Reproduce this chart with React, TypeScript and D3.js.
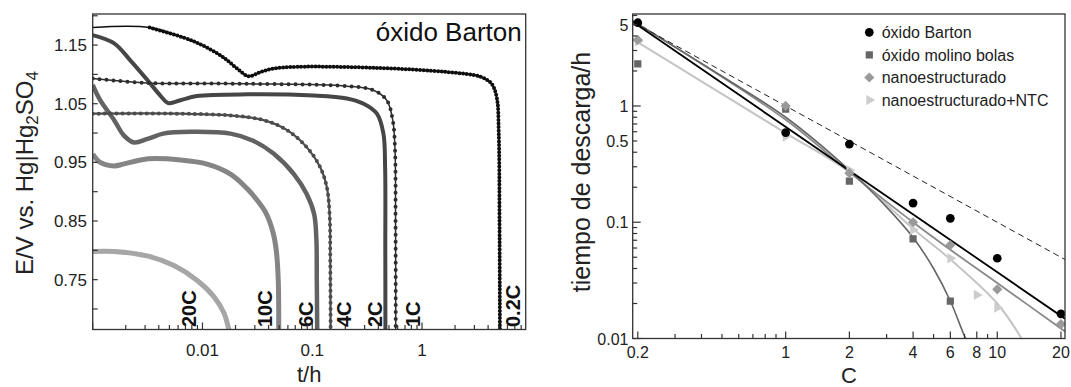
import { useRef, useEffect } from "react";
import * as d3 from "d3";

// ---- left panel: discharge curves, óxido Barton (t in h, E in V) ----
const t02 = [0.001, 0.0033, 0.0068, 0.0099, 0.0136, 0.0168, 0.0207, 0.0263, 0.0337, 0.0444, 0.073, 0.4, 1.7, 3.4, 4.3, 4.8, 5.0, 5.08, 5.12];
const e02 = [1.18, 1.18, 1.1625, 1.15, 1.136, 1.124, 1.11, 1.097, 1.104, 1.11, 1.113, 1.111, 1.104, 1.096, 1.084, 1.06, 1.0, 0.85, 0.66];
const t1 = [0.001, 0.0031, 0.0256, 0.207, 0.361, 0.477, 0.541, 0.568, 0.574, 0.576];
const e1 = [1.093, 1.0855, 1.084, 1.08, 1.073, 1.056, 1.022, 0.97, 0.85, 0.66];
const t2 = [0.001, 0.00157, 0.0022, 0.00316, 0.00413, 0.0049, 0.0063, 0.0089, 0.0256, 0.103, 0.207, 0.294, 0.388, 0.445, 0.461, 0.463, 0.464];
const e2 = [1.167, 1.153, 1.124, 1.09, 1.064, 1.051, 1.056, 1.063, 1.066, 1.064, 1.059, 1.05, 1.033, 0.999, 0.942, 0.8, 0.66];
const t4 = [0.001, 0.0063, 0.018, 0.036, 0.059, 0.089, 0.118, 0.136, 0.144, 0.146, 0.147];
const e4 = [1.033, 1.033, 1.03, 1.022, 1.005, 0.976, 0.942, 0.907, 0.86, 0.78, 0.66];
const t6 = [0.001, 0.00117, 0.00157, 0.00192, 0.00237, 0.00316, 0.0044, 0.0078, 0.018, 0.029, 0.0444, 0.068, 0.089, 0.104, 0.109, 0.11, 0.111];
const e6 = [1.082, 1.056, 1.022, 0.996, 0.984, 0.99, 0.999, 1.002, 0.999, 0.987, 0.965, 0.93, 0.896, 0.862, 0.82, 0.75, 0.66];
const t10 = [0.001, 0.00117, 0.00157, 0.0019, 0.0032, 0.0063, 0.011, 0.018, 0.0256, 0.0316, 0.038, 0.044, 0.047, 0.049, 0.0495];
const e10 = [0.964, 0.95, 0.944, 0.947, 0.956, 0.954, 0.947, 0.93, 0.905, 0.885, 0.863, 0.83, 0.8, 0.75, 0.66];
const t20 = [0.001, 0.00157, 0.0032, 0.0055, 0.0089, 0.0127, 0.0157, 0.0174, 0.018];
const e20 = [0.798, 0.798, 0.79, 0.774, 0.749, 0.721, 0.693, 0.665, 0.655];
const rateNames = ["0.2C", "1C", "2C", "4C", "6C", "10C", "20C"];
const rateLabelAt = [6.76, 0.82, 0.37, 0.193, 0.0879, 0.0372, 0.0075];

// ---- right panel: discharge time vs C-rate ----
const bartonC = [0.2, 1, 2, 4, 6, 10, 20];
const bartonT = [5.2, 0.59, 0.47, 0.146, 0.108, 0.049, 0.0163];
const molinoC = [0.2, 1, 2, 4, 6];
const molinoT = [2.3, 0.94, 0.226, 0.072, 0.021];
const nanoC = [0.2, 1, 2, 4, 6, 10, 20];
const nanoT = [3.7, 1.0, 0.264, 0.1, 0.0636, 0.0265, 0.0133];
const ntcC = [0.2, 1, 2, 4, 6, 8, 10];
const ntcT = [3.6, 0.545, 0.28, 0.086, 0.049, 0.0237, 0.0184];

// fitted curves
const fitBartonC = [0.1892, 20.9];
const fitBartonT = [5.3, 0.0148];
const idealC = [0.1892, 20.9];
const idealT = [5.29, 0.0478];
const fitMolinoC = [0.1892, 0.5, 1, 2, 3, 4, 5, 6, 7, 7.3];
const fitMolinoT = [5.4, 1.8, 0.8, 0.28, 0.135, 0.074, 0.04, 0.021, 0.0105, 0.009];
const fitNanoC = [0.1892, 1, 2, 4, 6, 10, 20.9];
const fitNanoT = [5.4, 0.76, 0.27, 0.1, 0.058, 0.03, 0.0115];
const fitNtcC = [0.1892, 1, 2, 4, 6, 10, 13.5];
const fitNtcT = [3.75, 0.585, 0.27, 0.088, 0.048, 0.02, 0.009];

const legendNames = ["óxido Barton", "óxido molino bolas", "nanoestructurado", "nanoestructurado+NTC"];

const FONT = "'Liberation Sans', Arial, sans-serif";

export default function App() {
  const svgRef = useRef(null);

  useEffect(() => {
    document.body.style.margin = "0";
    const svg = d3.select(svgRef.current);
    svg.selectAll("*").remove();

    // ================= LEFT PANEL =================
    const L = { x0: 92.7, x1: 525.7, y0: 14, y1: 329.5 };
    const xL = d3.scaleLog().domain([0.001, 8.8]).range([L.x0, L.x1]);
    const yL = d3.scaleLinear().domain([0.665, 1.203]).range([L.y1, L.y0]);

    svg.append("defs").html(
      `<clipPath id="clipL"><rect x="${L.x0}" y="${L.y0}" width="${L.x1 - L.x0}" height="${L.y1 - L.y0}"/></clipPath>` +
      `<clipPath id="clipR"><rect x="632.7" y="14" width="432.3" height="324.5"/></clipPath>`
    );

    const gL = svg.append("g");
    const curves = gL.append("g").attr("clip-path", "url(#clipL)");
    const lineL = d3.line<[number, number]>()
      .x(d => xL(d[0]))
      .y(d => yL(d[1]))
      .curve(d3.curveCatmullRom.alpha(0.5));

    // dots: dasharray emulating the dense measured points; dotFrom = first point with dots
    const series = [
      { t: t20, e: e20, color: "#a6a6a6", w: 5, dots: null, dotFrom: 0 },
      { t: t10, e: e10, color: "#858585", w: 5, dots: null, dotFrom: 0 },
      { t: t6, e: e6, color: "#626262", w: 4.5, dots: null, dotFrom: 0 },
      { t: t4, e: e4, color: "#4c4c4c", w: 2.2, dots: "0 6", dotFrom: 0 },
      { t: t2, e: e2, color: "#464646", w: 4, dots: null, dotFrom: 0 },
      { t: t1, e: e1, color: "#2e2e2e", w: 1.5, dots: "0 7", dotFrom: 0 },
      { t: t02, e: e02, color: "#0e0e0e", w: 1.5, dots: "0 3.6", dotFrom: 1 },
    ];
    series.forEach(s => {
      const pts = s.t.map((t, i) => [t, s.e[i]] as [number, number]);
      curves.append("path")
        .attr("d", lineL(pts))
        .attr("fill", "none")
        .attr("stroke", s.color)
        .attr("stroke-width", s.w)
        .attr("stroke-linejoin", "round");
      if (s.dots) {
        curves.append("path")
          .attr("d", lineL(pts.slice(s.dotFrom)))
          .attr("fill", "none")
          .attr("stroke", s.color)
          .attr("stroke-width", 4)
          .attr("stroke-linecap", "round")
          .attr("stroke-dasharray", s.dots);
      }
    });

    // curve labels
    rateNames.forEach((name, i) => {
      const x = xL(rateLabelAt[i]) + 7;
      gL.append("text")
        .attr("transform", `translate(${x},327) rotate(-90)`)
        .attr("font-family", FONT)
        .attr("font-weight", "bold")
        .attr("font-size", 20)
        .attr("fill", "#111")
        .text(name);
    });

    // left ticks
    const ticksXL: number[] = [];
    for (let k = -3; k <= 0; k++) for (let m = 1; m <= 9; m++) {
      const v = m * Math.pow(10, k);
      if (v >= 0.001 && v <= 8.8) ticksXL.push(v);
    }
    ticksXL.forEach(v => {
      const major = Math.abs(Math.log10(v) - Math.round(Math.log10(v))) < 1e-9;
      gL.append("line")
        .attr("x1", xL(v)).attr("x2", xL(v))
        .attr("y1", L.y1).attr("y2", L.y1 - (major ? 7 : 4.5))
        .attr("stroke", "#333").attr("stroke-width", 1.2);
    });
    [0.01, 0.1, 1].forEach(v => {
      gL.append("text")
        .attr("x", xL(v)).attr("y", 355.7)
        .attr("text-anchor", "middle")
        .attr("font-family", FONT).attr("font-size", 17).attr("fill", "#222")
        .text(String(v));
    });
    d3.range(0.70, 1.2001, 0.05).forEach(v => {
      gL.append("line")
        .attr("x1", L.x0).attr("x2", L.x0 + 5)
        .attr("y1", yL(v)).attr("y2", yL(v))
        .attr("stroke", "#333").attr("stroke-width", 1.2);
    });
    [0.75, 0.85, 0.95, 1.05, 1.15].forEach(v => {
      gL.append("text")
        .attr("x", 87).attr("y", yL(v) + 6)
        .attr("text-anchor", "end")
        .attr("font-family", FONT).attr("font-size", 17).attr("fill", "#222")
        .text(v.toFixed(2));
    });

    gL.append("rect")
      .attr("x", L.x0).attr("y", L.y0)
      .attr("width", L.x1 - L.x0).attr("height", L.y1 - L.y0)
      .attr("fill", "none").attr("stroke", "#333").attr("stroke-width", 1.3);

    gL.append("text")
      .attr("x", 521.7).attr("y", 40.7)
      .attr("text-anchor", "end")
      .attr("font-family", FONT).attr("font-size", 26).attr("fill", "#111")
      .text("óxido Barton");

    gL.append("text")
      .attr("x", (L.x0 + L.x1) / 2).attr("y", 381.5)
      .attr("text-anchor", "middle")
      .attr("font-family", FONT).attr("font-size", 22).attr("fill", "#222")
      .text("t/h");

    const yTitle = gL.append("text")
      .attr("transform", `translate(33,173) rotate(-90)`)
      .attr("text-anchor", "middle")
      .attr("font-family", FONT).attr("font-size", 24).attr("fill", "#222");
    yTitle.append("tspan").text("E/V vs. Hg|Hg");
    yTitle.append("tspan").attr("font-size", 17).attr("dy", 5).text("2");
    yTitle.append("tspan").attr("dy", -5).text("SO");
    yTitle.append("tspan").attr("font-size", 17).attr("dy", 5).text("4");

    // ================= RIGHT PANEL =================
    const R = { x0: 632.7, x1: 1065, y0: 14, y1: 338.5 };
    const xR = d3.scaleLog().domain([0.1892, 20.9]).range([R.x0, R.x1]);
    const yR = d3.scaleLog().domain([0.01, 6.18]).range([R.y1, R.y0]);
    const gR = svg.append("g");
    const fits = gR.append("g").attr("clip-path", "url(#clipR)");
    const lineR = d3.line<[number, number]>()
      .x(d => xR(d[0]))
      .y(d => yR(d[1]))
      .curve(d3.curveCatmullRom.alpha(0.5));
    const pair = (a: number[], b: number[]) => a.map((v, i) => [v, b[i]] as [number, number]);

    const fitLines = [
      { c: fitNtcC, t: fitNtcT, color: "#c4c4c4", w: 2, dash: null },
      { c: fitNanoC, t: fitNanoT, color: "#8a8a8a", w: 1.8, dash: null },
      { c: fitMolinoC, t: fitMolinoT, color: "#666", w: 1.6, dash: null },
      { c: fitBartonC, t: fitBartonT, color: "#000", w: 1.8, dash: null },
      { c: idealC, t: idealT, color: "#222", w: 1, dash: "6 4" },
    ];
    fitLines.forEach(f => {
      fits.append("path")
        .attr("d", lineR(pair(f.c, f.t)))
        .attr("fill", "none")
        .attr("stroke", f.color)
        .attr("stroke-width", f.w)
        .attr("stroke-dasharray", f.dash);
    });

    const symCircle = d3.symbol(d3.symbolCircle, 60);
    const symSquare = d3.symbol(d3.symbolSquare, 52);
    const symTri = d3.symbol(d3.symbolTriangle, 46);
    const markerSets = [
      { c: ntcC, t: ntcT, sym: symTri, color: "#cdcdcd", rot: 90 },
      { c: molinoC, t: molinoT, sym: symSquare, color: "#666", rot: 0 },
      { c: nanoC, t: nanoT, sym: symSquare, color: "#9a9a9a", rot: 45 },
      { c: bartonC, t: bartonT, sym: symCircle, color: "#000", rot: 0 },
    ];
    markerSets.forEach(m => {
      m.c.forEach((c, i) => {
        fits.append("path")
          .attr("d", m.sym())
          .attr("transform", `translate(${xR(c)},${yR(m.t[i])}) rotate(${m.rot})`)
          .attr("fill", m.color);
      });
    });

    // legend
    const legendSyms = [
      { sym: symCircle, color: "#000", rot: 0 },
      { sym: symSquare, color: "#666", rot: 0 },
      { sym: symSquare, color: "#9a9a9a", rot: 45 },
      { sym: symTri, color: "#cdcdcd", rot: 90 },
    ];
    legendNames.forEach((name, i) => {
      const y = 32.3 + i * 22.6;
      gR.append("path")
        .attr("d", legendSyms[i].sym())
        .attr("transform", `translate(869.3,${y}) rotate(${legendSyms[i].rot})`)
        .attr("fill", legendSyms[i].color);
      gR.append("text")
        .attr("x", 881.7).attr("y", y + 5.6)
        .attr("font-family", FONT).attr("font-size", 16).attr("fill", "#222")
        .text(name);
    });

    // right ticks
    const labeledX = [0.2, 1, 2, 4, 6, 8, 10, 20];
    for (let k = -1; k <= 1; k++) for (let m = 1; m <= 9; m++) {
      const v = +(m * Math.pow(10, k)).toPrecision(3);
      if (v < 0.19 || v > 20.9) continue;
      const lab = labeledX.includes(v);
      gR.append("line")
        .attr("x1", xR(v)).attr("x2", xR(v))
        .attr("y1", R.y1).attr("y2", R.y1 - (lab ? 7 : 4.5))
        .attr("stroke", "#333").attr("stroke-width", 1.2);
    }
    labeledX.forEach(v => {
      gR.append("text")
        .attr("x", xR(v)).attr("y", 358.3)
        .attr("text-anchor", "middle")
        .attr("font-family", FONT).attr("font-size", 16).attr("fill", "#222")
        .text(String(v));
    });
    for (let k = -2; k <= 0; k++) for (let m = 1; m <= 9; m++) {
      const v = +(m * Math.pow(10, k)).toPrecision(3);
      if (v > 6.18) continue;
      gR.append("line")
        .attr("x1", R.x0).attr("x2", R.x0 + (m === 1 ? 8 : 4.5))
        .attr("y1", yR(v)).attr("y2", yR(v))
        .attr("stroke", "#333").attr("stroke-width", 1.2);
    }
    [0.01, 0.1, 0.5, 1, 5].forEach(v => {
      gR.append("text")
        .attr("x", 628.5).attr("y", yR(v) + 6)
        .attr("text-anchor", "end")
        .attr("font-family", FONT).attr("font-size", 16).attr("fill", "#222")
        .text(String(v));
    });

    gR.append("rect")
      .attr("x", R.x0).attr("y", R.y0)
      .attr("width", R.x1 - R.x0).attr("height", R.y1 - R.y0)
      .attr("fill", "none").attr("stroke", "#333").attr("stroke-width", 1.3);

    gR.append("text")
      .attr("x", (R.x0 + R.x1) / 2).attr("y", 383)
      .attr("text-anchor", "middle")
      .attr("font-family", FONT).attr("font-size", 22).attr("fill", "#222")
      .text("C");

    gR.append("text")
      .attr("transform", `translate(590,172) rotate(-90)`)
      .attr("text-anchor", "middle")
      .attr("font-family", FONT).attr("font-size", 25).attr("fill", "#222")
      .text("tiempo de descarga/h");
  }, []);

  return (
    <svg ref={svgRef} width={1071} height={387} style={{ display: "block", background: "#fff" }}>
    </svg>
  );
}
